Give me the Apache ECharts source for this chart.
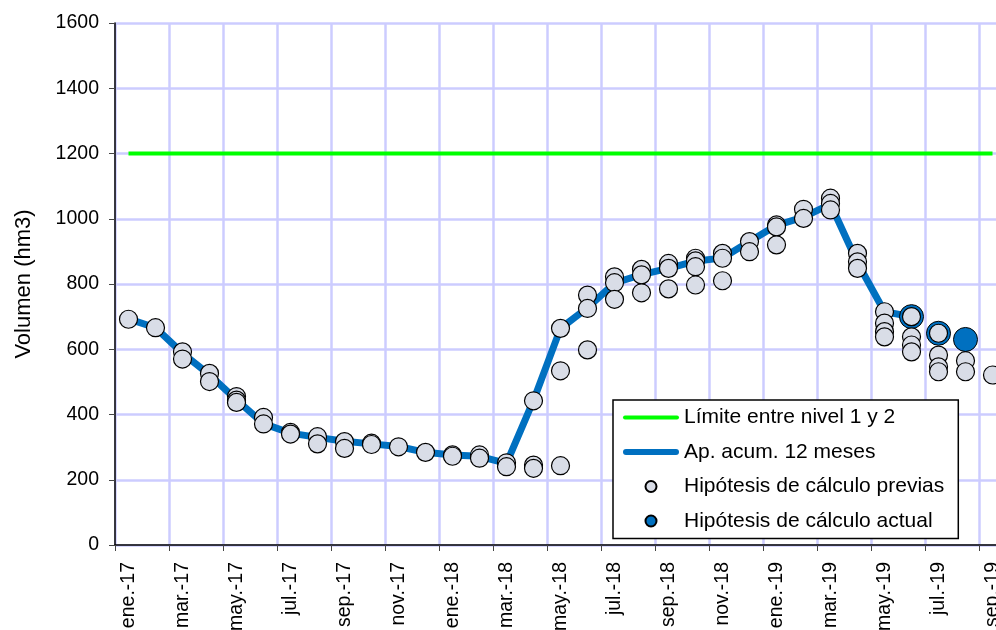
<!DOCTYPE html>
<html>
<head>
<meta charset="utf-8">
<script src="https://cdn.jsdelivr.net/npm/echarts@6/dist/echarts.min.js"></script>
<style>
html,body{margin:0;padding:0;background:#fff;}
#c{width:996px;height:630px;}
</style>
</head>
<body>
<div id="c"></div>
<script>
// ---- Data ----
var months = ['ene.-17','feb.-17','mar.-17','abr.-17','may.-17','jun.-17','jul.-17','ago.-17','sep.-17','oct.-17','nov.-17','dic.-17',
              'ene.-18','feb.-18','mar.-18','abr.-18','may.-18','jun.-18','jul.-18','ago.-18','sep.-18','oct.-18','nov.-18','dic.-18',
              'ene.-19','feb.-19','mar.-19','abr.-19','may.-19','jun.-19','jul.-19','ago.-19','sep.-19'];
var yTicks = [0, 200, 400, 600, 800, 1000, 1200, 1400, 1600];
var limitValues = [1200,1200,1200,1200,1200,1200,1200,1200,1200,1200,1200,1200,1200,1200,1200,1200,1200,
                   1200,1200,1200,1200,1200,1200,1200,1200,1200,1200,1200,1200,1200,1200,1200,1200];
var apAcumValues = [693,666,588,522,445,372,343,330,318,310,302,284,276,272,250,443,664,727,803,829,848,
                    870,880,930,980,1005,1045,865,715,700];
var actualMonths = ['jun.-19','jul.-19','ago.-19'];
var actualValues = [700, 649, 630];
// previous hypotheses, one list per month (same order as months)
var previasByMonth = [
  [692],[666],[592,570],[526,501],[455,444,437],[391,371],[345,340],[332,310],[317,296],[312,308],
  [301],[284],[276,272],[276,266],[252,240],[442,245,235],[664,534,243],[766,725,598],
  [822,804,753],[845,828,773],[863,848,785],[879,871,853,797],[894,879,810],[930,899],
  [981,975,920],[1029,1001],[1063,1047,1027],[894,868,848],[715,680,654,638],[700,638,613,592],
  [649,582,546,531],[565,531],[521]
];

var previasData = [];
previasByMonth.forEach(function (vals, i) {
  vals.forEach(function (v) { previasData.push([months[i], v]); });
});
var actualData = actualMonths.map(function (m, i) { return [m, actualValues[i]]; });

var FONT = 'Liberation Sans, Arial, sans-serif';
var greenIcon = 'path://M2,0 L54,0 A2,2 0 0 1 54,4 L2,4 A2,2 0 0 1 2,0 Z';
var blueIcon = 'path://M3,0 L53,0 A3,3 0 0 1 53,6 L3,6 A3,3 0 0 1 3,0 Z';

var chart = echarts.init(document.getElementById('c'), null, {renderer: 'canvas'});
chart.setOption({
  animation: false,
  backgroundColor: '#ffffff',
  textStyle: {fontFamily: FONT, color: '#000'},
  grid: {left: 115, right: -10, top: 23, bottom: 85, containLabel: false, outerBoundsMode: 'none'},
  xAxis: {
    type: 'category',
    data: months,
    boundaryGap: true,
    axisLine: {lineStyle: {color: '#000', width: 1.5}},
    axisTick: {show: true, interval: 1, length: 6, lineStyle: {color: '#444', width: 1}},
    axisLabel: {interval: 1, rotate: 90, margin: 17, fontSize: 19.5, color: '#000', fontFamily: FONT},
    splitLine: {show: true, interval: 1, lineStyle: {color: '#ccccff', width: 2.5}}
  },
  yAxis: {
    type: 'value',
    min: yTicks[0], max: yTicks[yTicks.length - 1], interval: 200,
    name: 'Volumen (hm3)',
    nameLocation: 'middle',
    nameGap: 80,
    nameTextStyle: {fontSize: 22, color: '#000', fontFamily: FONT},
    axisLine: {show: true, lineStyle: {color: '#000', width: 1.5}},
    axisTick: {show: true, length: 6, lineStyle: {color: '#444', width: 1}},
    axisLabel: {margin: 16, fontSize: 19.5, color: '#000', fontFamily: FONT,
      formatter: function (v) { return String(v); }},
    splitLine: {show: true, lineStyle: {color: '#ccccff', width: 2.5}}
  },
  legend: {
    orient: 'vertical',
    left: 613, top: 400,
    padding: [7, 14, 7, 10],
    itemWidth: 56, itemHeight: 11, itemGap: 13.5, itemTextGap: 4,
    textStyle: {fontSize: 21, lineHeight: 20, color: '#000', fontFamily: FONT},
    borderColor: '#000', borderWidth: 1.5, backgroundColor: '#fff',
    data: [
      {name: 'Límite entre nivel 1 y 2', icon: greenIcon, itemStyle: {color: '#00ff00', borderWidth: 0}},
      {name: 'Ap. acum. 12 meses', icon: blueIcon, itemStyle: {color: '#0070c0', borderWidth: 0}},
      {name: 'Hipótesis de cálculo previas', icon: 'circle'},
      {name: 'Hipótesis de cálculo actual', icon: 'circle'}
    ]
  },
  series: [
    {
      name: 'Límite entre nivel 1 y 2', type: 'line', data: limitValues,
      symbol: 'none', z: 2,
      itemStyle: {color: '#00ff00'},
      lineStyle: {color: '#00ff00', width: 4}
    },
    {
      name: 'Ap. acum. 12 meses', type: 'line', data: apAcumValues,
      symbol: 'none', z: 3,
      itemStyle: {color: '#0070c0'},
      lineStyle: {color: '#0070c0', width: 7, join: 'round', cap: 'round'}
    },
    {
      name: 'Hipótesis de cálculo actual', type: 'scatter', data: actualData,
      symbol: 'circle', symbolSize: 24, z: 4,
      itemStyle: {color: '#0070c0', borderColor: '#000', borderWidth: 1, opacity: 1}
    },
    {
      name: 'Hipótesis de cálculo previas', type: 'scatter', data: previasData,
      symbol: 'circle', symbolSize: 18, z: 5,
      itemStyle: {color: '#d9dde7', borderColor: '#000', borderWidth: 1.2, opacity: 1}
    }
  ]
});
</script>
</body>
</html>
